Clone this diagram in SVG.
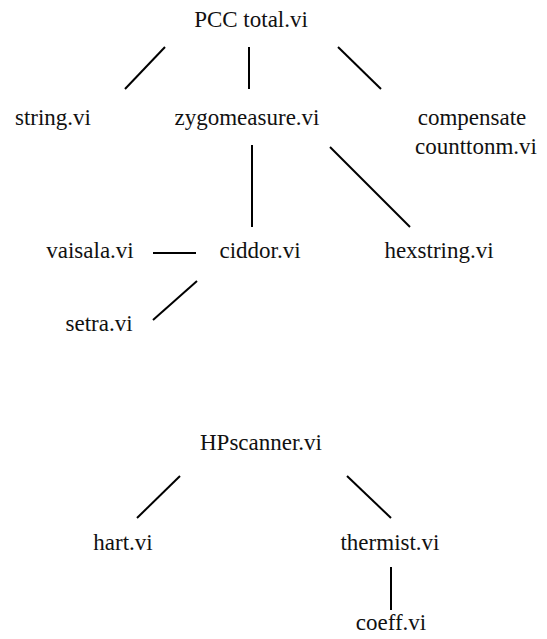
<svg xmlns="http://www.w3.org/2000/svg" width="547" height="639" viewBox="0 0 547 639">
<style>
.t{font-family:'Liberation Serif','DejaVu Serif',serif;font-size:23px;fill:#111;text-anchor:middle}
.c line{stroke:#000;stroke-width:2}
</style>
<rect width="547" height="639" fill="#fff"/>
<g id="connectors" class="c">
<line x1="165" y1="47" x2="125" y2="89"/>
<line x1="249" y1="47" x2="249" y2="89"/>
<line x1="338" y1="47" x2="381" y2="89"/>
<line x1="252" y1="145" x2="252" y2="227"/>
<line x1="330" y1="147" x2="410" y2="227"/>
<line x1="153" y1="253" x2="196" y2="253"/>
<line x1="197" y1="281" x2="153" y2="320"/>
<line x1="180" y1="476" x2="137" y2="518"/>
<line x1="347" y1="476" x2="391" y2="518"/>
<line x1="391" y1="567" x2="391" y2="610"/>
</g>
<g id="pcc"><text class="t" x="251" y="27">PCC total.vi</text></g>
<g id="string"><text class="t" x="53" y="125">string.vi</text></g>
<g id="zygo"><text class="t" x="247" y="125">zygomeasure.vi</text></g>
<g id="compensate"><text class="t" x="472" y="125">compensate</text><text class="t" x="476" y="154">counttonm.vi</text></g>
<g id="vaisala"><text class="t" x="90" y="258">vaisala.vi</text></g>
<g id="ciddor"><text class="t" x="260" y="258">ciddor.vi</text></g>
<g id="hexstring"><text class="t" x="439" y="258">hexstring.vi</text></g>
<g id="setra"><text class="t" x="99" y="331">setra.vi</text></g>
<g id="hpscanner"><text class="t" x="261" y="450">HPscanner.vi</text></g>
<g id="hart"><text class="t" x="123" y="550">hart.vi</text></g>
<g id="thermist"><text class="t" x="390" y="550">thermist.vi</text></g>
<g id="coeff"><text class="t" x="391" y="630">coeff.vi</text></g>
</svg>
